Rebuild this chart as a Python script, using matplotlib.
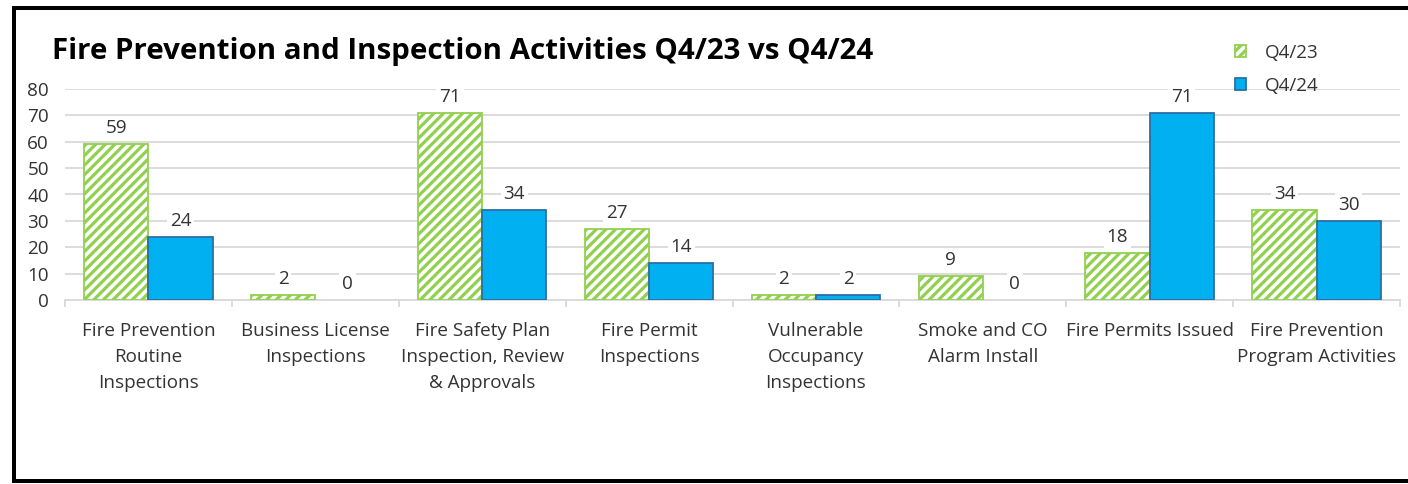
import numpy as np
import matplotlib
matplotlib.use('Agg')
import matplotlib.pyplot as plt
from matplotlib.patches import Patch
from matplotlib.lines import Line2D

categories = [
    'Fire Prevention\nRoutine\nInspections',
    'Business License\nInspections',
    'Fire Safety Plan\nInspection, Review\n& Approvals',
    'Fire Permit\nInspections',
    'Vulnerable\nOccupancy\nInspections',
    'Smoke and CO\nAlarm Install',
    'Fire Permits Issued',
    'Fire Prevention\nProgram Activities',
]
q4_23 = [59, 2, 71, 27, 2, 9, 18, 34]
q4_24 = [24, 0, 34, 14, 2, 0, 71, 30]
series_names = ['Q4/23', 'Q4/24']
yticks = [0, 10, 20, 30, 40, 50, 60, 70, 80]

DPI = 144
W, H = 1408, 484
S = 100 / DPI  # font sizes below were picked for 100 dpi

GREEN = '#92D050'
BLUE = '#00B0F0'
BLUE_EDGE = '#2E6DA4'
GRID = '#D9D9D9'
TEXT = '#333333'
FS = 13.6 * S
HATCH = '/////'

plt.rcParams['font.family'] = ['Open Sans', 'DejaVu Sans']
plt.rcParams['hatch.linewidth'] = 1.6

fig = plt.figure(figsize=(W / DPI, H / DPI), dpi=DPI)
ax = fig.add_axes([65 / W, 1 - 300 / H, (1400 - 65) / W, (300 - 89) / H])

x = np.arange(len(categories))
bw = 0.385

bars_a = ax.bar(x - bw / 2, q4_23, width=bw, facecolor='white', edgecolor=GREEN,
                hatch=HATCH, linewidth=[0.9 if v else 0 for v in q4_23], zorder=3)
bars_b = ax.bar(x + bw / 2, q4_24, width=bw, facecolor=BLUE, edgecolor=BLUE_EDGE,
                linewidth=[0.9 if v else 0 for v in q4_24], zorder=3)

for bars, vals in [(bars_a, q4_23), (bars_b, q4_24)]:
    for b, v in zip(bars, vals):
        ax.annotate(str(v), (b.get_x() + b.get_width() / 2, v),
                    xytext=(0, 8), textcoords='offset points',
                    ha='center', va='center', fontsize=FS, color=TEXT, zorder=4,
                    bbox=dict(boxstyle='square,pad=0.15', fc='white', ec='none'))

ax.set_xlim(-0.5, len(categories) - 0.5)
ax.set_ylim(0, 80)
ax.set_yticks(yticks)
ax.yaxis.grid(True, color=GRID, linewidth=0.9, zorder=0)
ax.set_axisbelow(True)

ax.set_xticks(x)
ax.set_xticklabels(categories, fontsize=FS, color=TEXT, linespacing=1.57)
ax.set_xticks(np.arange(len(categories) + 1) - 0.5, minor=True)
ax.tick_params(axis='x', which='major', length=0, pad=11)
ax.tick_params(axis='x', which='minor', length=3.5, color=GRID, width=0.9)
ax.tick_params(axis='y', length=0, labelsize=FS, labelcolor=TEXT, pad=8)

for side in ['top', 'right', 'left']:
    ax.spines[side].set_visible(False)
ax.spines['bottom'].set_color(GRID)
ax.spines['bottom'].set_linewidth(0.9)

fig.text(52 / W, 1 - 51 / H, 'Fire Prevention and Inspection Activities Q4/23 vs Q4/24',
         fontsize=21.2 * S, fontweight='bold', color='black', va='center', ha='left')

handles = [Patch(facecolor='white', edgecolor=GREEN, hatch=HATCH, linewidth=0.9),
           Patch(facecolor=BLUE, edgecolor=BLUE_EDGE, linewidth=0.9)]
fig.legend(handles, series_names, loc='upper left', bbox_to_anchor=(1218 / W, 1 - 27 / H),
           frameon=False, fontsize=FS, handlelength=0.6, handleheight=0.6,
           handletextpad=1.0, labelspacing=0.8, labelcolor=TEXT)

# black frame around the chart (left, top, bottom)
lw = 4 * 72 / DPI
fig.add_artist(Line2D([14 / W, 14 / W], [1 - 7.5 / H, 1 - 481 / H], color='black', lw=lw,
                      transform=fig.transFigure, solid_capstyle='projecting'))
fig.add_artist(Line2D([14 / W, 1], [1 - 7.5 / H, 1 - 7.5 / H], color='black', lw=lw,
                      transform=fig.transFigure))
fig.add_artist(Line2D([14 / W, 1407 / W], [1 - 481 / H, 1 - 481 / H], color='black', lw=lw,
                      transform=fig.transFigure))

fig.savefig('out.png', dpi=DPI, facecolor='white')
